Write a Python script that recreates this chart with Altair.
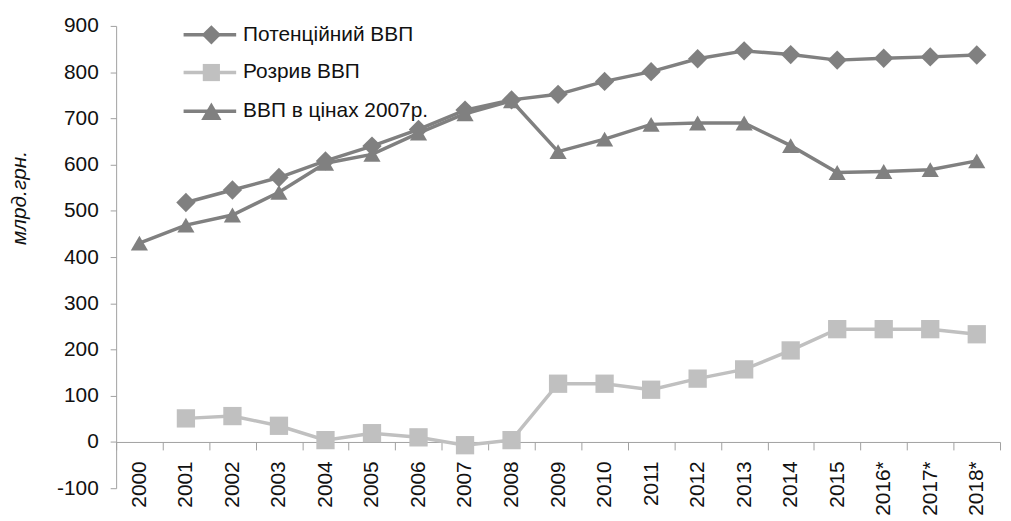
import altair as alt
import pandas as pd

years = ["2000", "2001", "2002", "2003", "2004", "2005", "2006", "2007", "2008", "2009",
         "2010", "2011", "2012", "2013", "2014", "2015", "2016*", "2017*", "2018*"]
potential = [None, 518, 545, 572, 608, 640, 676, 718, 740, 752, 780, 801, 829, 846, 838, 826, 830, 833, 837]
gap = [None, 51, 56, 35, 4, 19, 10, -7, 4, 126, 126, 113, 137, 157, 198, 244, 244, 244, 233]
gdp = [430, 469, 491, 540, 603, 622, 668, 710, 738, 628, 655, 687, 690, 690, 641, 583, 585, 589, 608]

names = ["Потенційний ВВП", "Розрив ВВП", "ВВП в цінах 2007р."]
colors = ["#808080", "#C0C0C0", "#808080"]
shapes = ["diamond", "square", "triangle-up"]
sizes = [380, 300, 420]

rows = []
for nm, vals in zip(names, [potential, gap, gdp]):
    for y, v in zip(years, vals):
        if v is not None:
            rows.append({"year": y, "series": nm, "value": v})
df = pd.DataFrame(rows)

FONT = "Liberation Sans"
FS = 21
W, H = 891, 466

x_enc = alt.X("year:N", sort=years, bandPosition=0.5,
              scale=alt.Scale(type="band", domain=years, paddingInner=0, paddingOuter=0),
              axis=alt.Axis(title=None, labelAngle=-90, labelAlign="right", labelBaseline="middle",
                            tickBand="extent", tickSize=8, labelPadding=11,
                            offset=-H * 100 / 1000, domainColor="#A0A0A0", tickColor="#A0A0A0",
                            labelFont=FONT, labelFontSize=FS, labelColor="#111111"))
y_enc = alt.Y("value:Q",
              scale=alt.Scale(domain=[-100, 900], nice=False, zero=False),
              axis=alt.Axis(values=list(range(-100, 901, 100)), title="млрд.грн.", grid=False,
                            labelExpr="datum.value + ''",
                            tickSize=6, labelPadding=12, domainColor="#A0A0A0", tickColor="#A0A0A0",
                            labelFont=FONT, labelFontSize=FS, labelColor="#111111",
                            titleFont=FONT, titleFontSize=FS, titleFontStyle="italic",
                            titleFontWeight="normal", titleColor="#111111",
                            titleAngle=270, titleX=-97, titleY=173,
                            titleAlign="center", titleBaseline="middle"))

color = alt.Color("series:N", scale=alt.Scale(domain=names, range=colors), legend=None)
shape = alt.Shape("series:N", scale=alt.Scale(domain=names, range=shapes), legend=None)
size = alt.Size("series:N", scale=alt.Scale(domain=names, range=sizes), legend=None)

base = alt.Chart(df)
layers = []
for nm in names:
    sub = base.transform_filter(alt.datum.series == nm)
    layers.append(sub.mark_line(strokeWidth=3.5).encode(x=x_enc, y=y_enc, color=color))
    layers.append(sub.mark_point(filled=True, opacity=1, strokeWidth=0).encode(
        x=x_enc, y=y_enc, color=color, shape=shape, size=size))

leg_y = [9, 47, 86]
for nm, c, s, sz, ly in zip(names, colors, shapes, sizes, leg_y):
    ld = alt.Chart(pd.DataFrame({"label": [nm]}))
    layers.append(ld.mark_rule(color=c, strokeWidth=3.5).encode(
        x=alt.value(68), x2=alt.value(121), y=alt.value(ly)))
    layers.append(ld.mark_point(filled=True, opacity=1, color=c, shape=s, size=sz, strokeWidth=0).encode(
        x=alt.value(96), y=alt.value(ly)))
    layers.append(ld.mark_text(align="left", baseline="middle", font=FONT, fontSize=FS,
                               color="#111111").encode(
        x=alt.value(128), y=alt.value(ly), text="label:N"))

chart = alt.layer(*layers).properties(
    width=W, height=H,
    autosize=alt.AutoSizeParams(type="none"),
    padding={"left": 109, "top": 16, "right": 3, "bottom": 29},
).configure_view(stroke=None)

chart.save("out.html", embed_options={"renderer": "svg", "actions": False})
